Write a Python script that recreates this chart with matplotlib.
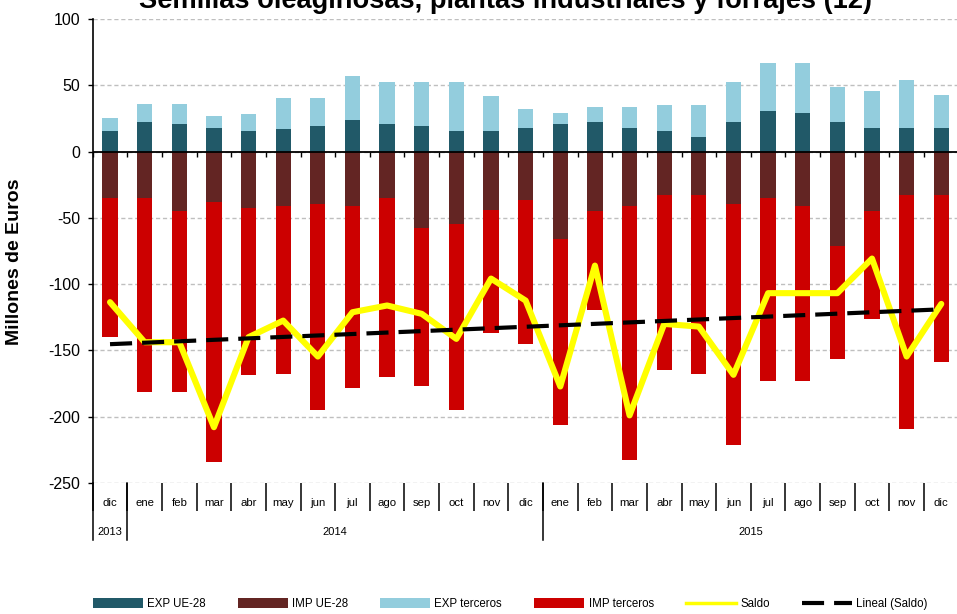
import numpy as np
import matplotlib
matplotlib.use("Agg")
import matplotlib.pyplot as plt
import matplotlib.transforms as mtransforms
from matplotlib.patches import Patch
from matplotlib.lines import Line2D

plt.rcParams["font.family"] = ["Liberation Sans", "DejaVu Sans"]
plt.rcParams["axes.unicode_minus"] = False

# ---- data (millones de euros) ----
meses = ["dic", "ene", "feb", "mar", "abr", "may", "jun", "jul", "ago", "sep", "oct", "nov", "dic",
         "ene", "feb", "mar", "abr", "may", "jun", "jul", "ago", "sep", "oct", "nov", "dic"]
anios = ["2013", "2014", "2015"]
meses_por_anio = [1, 12, 12]

exp_ue = [15.3, 22.1, 21.1, 18.1, 15.3, 16.8, 19.6, 23.9, 21.1, 19.6, 15.3, 15.3, 18.1,
          21.1, 22.1, 18.1, 15.3, 11.3, 22.1, 30.7, 29.2, 22.1, 18.1, 18.1, 18.1]
exp_terceros = [10.1, 14.1, 15.1, 8.5, 12.9, 23.7, 20.9, 32.9, 31.7, 33.2, 37.5, 26.4, 14.1,
                8.1, 11.3, 15.3, 19.6, 23.6, 30.7, 35.9, 37.4, 26.4, 27.9, 36.0, 24.9]
imp_ue = [-35.2, -35.2, -44.7, -38.0, -42.2, -41.0, -39.5, -41.0, -35.2, -57.6, -54.5, -43.7, -36.5,
          -65.9, -44.7, -41.0, -32.7, -32.7, -39.5, -35.2, -41.0, -71.1, -44.7, -32.7, -32.7]
imp_terceros = [-104.8, -146.0, -136.5, -195.8, -126.7, -126.7, -155.5, -137.5, -135.2, -119.6,
                -140.5, -93.3, -108.8, -140.2, -74.7, -191.3, -131.9, -135.0, -181.7, -137.7,
                -131.9, -85.5, -81.5, -176.2, -126.4]
saldo = [-113.6, -143.8, -143.8, -207.9, -140.0, -127.5, -154.6, -121.2, -116.1, -122.4, -141.3,
         -95.8, -112.4, -177.2, -86.0, -199.0, -130.0, -132.0, -168.4, -106.8, -106.8, -106.8,
         -80.7, -154.6, -114.9]

titulo = "Semillas oleaginosas, plantas industriales y forrajes (12)"
etiquetas = ["EXP UE-28", "IMP UE-28", "EXP terceros", "IMP terceros", "Saldo", "Lineal (Saldo)"]

C_EXP_UE = "#215968"
C_IMP_UE = "#632523"
C_EXP_TER = "#93CDDD"
C_IMP_TER = "#CC0000"
C_SALDO = "#FFFF00"

W, H = 957, 614
fig = plt.figure(figsize=(W / 100, H / 100), dpi=100)
left_px, right_px, top_px, bot_px = 92.7, 958.6, 19, 483
ax = fig.add_axes([left_px / W, 1 - bot_px / H, (right_px - left_px) / W, (bot_px - top_px) / H])

x = np.arange(len(meses))
bw = 0.44
ax.bar(x, exp_ue, bw, color=C_EXP_UE, zorder=2)
ax.bar(x, exp_terceros, bw, bottom=exp_ue, color=C_EXP_TER, zorder=2)
ax.bar(x, imp_ue, bw, color=C_IMP_UE, zorder=2)
ax.bar(x, imp_terceros, bw, bottom=imp_ue, color=C_IMP_TER, zorder=2)

ax.axhline(0, color="black", lw=1.3, zorder=3)
bordes = np.arange(len(meses) + 1) - 0.5
ax.plot(bordes, np.zeros_like(bordes), ls="none", marker=3, ms=3.8, mew=1.0,
        color="black", zorder=3, clip_on=False)

ax.plot(x, saldo, color=C_SALDO, lw=4.4, solid_joinstyle="round", solid_capstyle="round", zorder=4)
coef = np.polyfit(x, saldo, 1)
dash = (0, (5.3, 2.4))
ax.plot(x, np.polyval(coef, x), color="black", lw=3, linestyle=dash, zorder=5)

ax.set_xlim(-0.5, len(meses) - 0.5)
ax.set_ylim(-250, 100)
ax.set_yticks(np.arange(-250, 101, 50))
ax.yaxis.grid(True, linestyle=(0, (3, 2)), color="#BFBFBF", lw=1)
ax.set_axisbelow(True)
ax.tick_params(axis="y", direction="out", length=3.8, width=1, labelsize=11.5, pad=5, colors="black")

ax.set_xticks(bordes)
ax.set_xticklabels([])
ax.tick_params(axis="x", direction="out", length=20.5, width=1.1, color="black")

for s in ("top", "right", "bottom"):
    ax.spines[s].set_visible(False)
ax.spines["left"].set_linewidth(1.2)

# multi-level category labels below the plot
trans = mtransforms.blended_transform_factory(ax.transData, ax.transAxes)
axis_h = bot_px - top_px
y_mes = -(503 - bot_px) / axis_h
y_anio = -(532 - bot_px) / axis_h
y_fin = -(540 - bot_px) / axis_h

for i, m in enumerate(meses):
    ax.text(i, y_mes, m, transform=trans, ha="center", va="center", fontsize=8.2)

lim = np.concatenate([[0], np.cumsum(meses_por_anio)])
for k, a in enumerate(anios):
    centro = (lim[k] + lim[k + 1] - 1) / 2
    ax.text(centro, y_anio, a, transform=trans, ha="center", va="center", fontsize=8.0)
for b in lim - 0.5:
    ax.plot([b, b], [0, y_fin], transform=trans, color="black", lw=1.1, clip_on=False, zorder=3)

fig.text(505 / W, 1 - 8 / H, titulo, ha="center", va="baseline", fontsize=19.6, weight="bold")
fig.text(15 / W, 1 - 261.5 / H, "Millones de Euros", rotation=90, ha="center", va="center",
         fontsize=14, weight="bold")

handles = [Patch(facecolor=C_EXP_UE), Patch(facecolor=C_IMP_UE), Patch(facecolor=C_EXP_TER),
           Patch(facecolor=C_IMP_TER), Line2D([], [], color=C_SALDO, lw=2.5),
           Line2D([], [], color="black", lw=3, linestyle=dash)]
fig.legend(handles, etiquetas, loc="center", bbox_to_anchor=(510 / W, 1 - 604 / H), ncol=6,
           frameon=False, handlelength=4.35, handleheight=0.87, handletextpad=0.35,
           columnspacing=2.8, prop={"size": 8.3})

fig.savefig("out.png", dpi=100)
